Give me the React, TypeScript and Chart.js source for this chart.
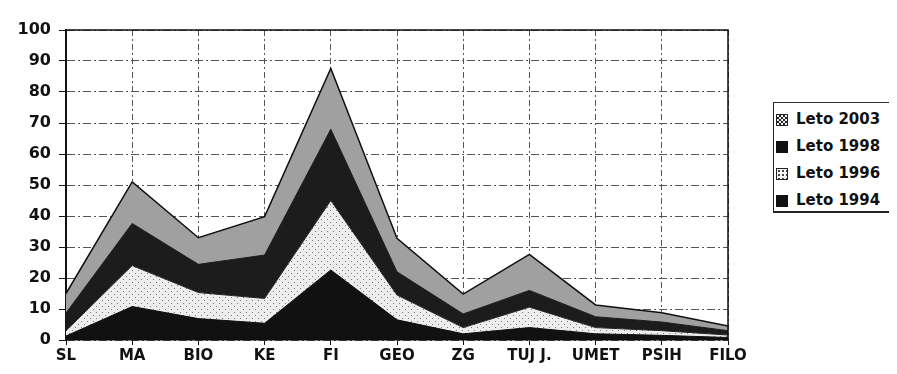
import React, { useEffect, useRef } from "react";
import { Chart, registerables } from "chart.js";

Chart.register(...registerables);

const categories = ["SL", "MA", "BIO", "KE", "FI", "GEO", "ZG", "TUJ J.", "UMET", "PSIH", "FILO"];
const leto1994 = [1.3, 10.8, 6.9, 5.4, 22.6, 6.5, 2, 4, 2, 1.5, 0.8];
const leto1996 = [1.7, 13.2, 8.4, 8, 22.4, 8, 2, 6.6, 2, 1.5, 0.8];
const leto1998 = [5.7, 13.6, 9.1, 14, 23, 7.5, 4.4, 5.4, 3.5, 2.8, 1.4];
const leto2003 = [6.3, 13.4, 8.6, 12.4, 19.6, 10.8, 6.4, 11.6, 3.8, 3, 1.5];
const seriesNames = ["Leto 1994", "Leto 1996", "Leto 1998", "Leto 2003"];
const yMin = 0;
const yMax = 100;
const yStep = 10;

const FONT = "'DejaVu Sans', sans-serif";

function makeDotPattern(): CanvasPattern | string {
  const c = document.createElement("canvas");
  c.width = 6;
  c.height = 6;
  const g = c.getContext("2d");
  if (!g) return "#e8e8e8";
  g.fillStyle = "#ededed";
  g.fillRect(0, 0, 6, 6);
  g.fillStyle = "#7a7a7a";
  g.fillRect(1, 1, 1, 1);
  g.fillRect(4, 4, 1, 1);
  const p = g.createPattern(c, "repeat");
  return p || "#e8e8e8";
}

const frameBorder = {
  id: "frameBorder",
  afterDatasetsDraw(chart: any) {
    const { ctx, chartArea } = chart;
    ctx.save();
    ctx.setLineDash([]);
    ctx.strokeStyle = "#111";
    ctx.lineWidth = 1.5;
    ctx.beginPath();
    ctx.moveTo(chartArea.left, chartArea.top);
    ctx.lineTo(chartArea.right, chartArea.top);
    ctx.lineTo(chartArea.right, chartArea.bottom);
    ctx.stroke();
    ctx.restore();
  },
};

function LegendIcon({ kind }: { kind: string }) {
  const base: React.CSSProperties = {
    display: "inline-block",
    width: 12,
    height: 12,
    marginRight: 8,
    boxSizing: "border-box",
    verticalAlign: "middle",
  };
  if (kind === "check") {
    return (
      <span
        style={{
          ...base,
          border: "1px solid #222",
          backgroundColor: "#f2f2f2",
          backgroundImage: "repeating-conic-gradient(#222 0% 25%, #f2f2f2 0% 50%)",
          backgroundSize: "4px 4px",
        }}
      />
    );
  }
  if (kind === "dots") {
    return (
      <span
        style={{
          ...base,
          border: "1.5px solid #222",
          backgroundColor: "#f5f5f5",
          backgroundImage: "radial-gradient(#444 1px, transparent 1px)",
          backgroundSize: "4px 4px",
        }}
      />
    );
  }
  return <span style={{ ...base, backgroundColor: "#111" }} />;
}

export default function App() {
  const canvasRef = useRef<HTMLCanvasElement | null>(null);

  useEffect(() => {
    const canvas = canvasRef.current;
    if (!canvas) return;
    const dots = makeDotPattern();
    const chart = new Chart(canvas, {
      type: "line",
      data: {
        labels: categories,
        datasets: [
          {
            label: seriesNames[0],
            data: leto1994,
            fill: "origin",
            backgroundColor: "#111111",
            borderColor: "#111111",
            borderWidth: 1,
            pointRadius: 0,
            tension: 0,
          },
          {
            label: seriesNames[1],
            data: leto1996,
            fill: "-1",
            backgroundColor: dots as any,
            borderColor: "#222",
            borderWidth: 1,
            pointRadius: 0,
            tension: 0,
          },
          {
            label: seriesNames[2],
            data: leto1998,
            fill: "-1",
            backgroundColor: "#1c1c1c",
            borderColor: "#1c1c1c",
            borderWidth: 1,
            pointRadius: 0,
            tension: 0,
          },
          {
            label: seriesNames[3],
            data: leto2003,
            fill: "-1",
            backgroundColor: "#a0a0a0",
            borderColor: "#111",
            borderWidth: 1.5,
            pointRadius: 0,
            tension: 0,
          },
        ],
      },
      options: {
        animation: false,
        responsive: false,
        maintainAspectRatio: false,
        layout: { padding: { left: 0, right: 161, top: 22, bottom: 0 } },
        plugins: {
          legend: { display: false },
          tooltip: { enabled: false },
        },
        scales: {
          x: {
            offset: false,
            afterFit: (s: any) => {
              s.height = 26;
            },
            grid: {
              display: true,
              color: "#555",
              lineWidth: 1,
              tickLength: 5,
              tickColor: "#111",
              drawOnChartArea: true,
            },
            border: { display: true, color: "#111", width: 1.5, dash: [6, 3, 2, 3] },
            ticks: {
              padding: 2,
              color: "#111",
              maxRotation: 0,
              autoSkip: false,
              font: { family: FONT, size: 15, weight: "bold" },
            },
          },
          y: {
            stacked: true,
            min: yMin,
            max: yMax,
            afterFit: (s: any) => {
              s.width = 58;
            },
            grid: {
              color: "#555",
              lineWidth: 1,
              tickLength: 7,
              tickColor: "#111",
            },
            border: { display: true, color: "#111", width: 2, dash: [8, 3, 2, 3] },
            ticks: {
              stepSize: yStep,
              padding: 8,
              color: "#111",
              font: { family: FONT, size: 16, weight: "bold" },
            },
          },
        },
      },
      plugins: [frameBorder],
    } as any);
    return () => chart.destroy();
  }, []);

  const legendItems = [
    { name: seriesNames[3], kind: "check" },
    { name: seriesNames[2], kind: "solid" },
    { name: seriesNames[1], kind: "dots" },
    { name: seriesNames[0], kind: "solid" },
  ];

  return (
    <div style={{ position: "relative", width: 881, height: 358 }}>
      <canvas ref={canvasRef} width={881} height={358} style={{ display: "block" }} />
      <div
        style={{
          position: "absolute",
          left: 765,
          top: 94,
          width: 120,
          height: 111,
          boxSizing: "border-box",
          border: "1px solid #333",
          borderLeft: "1.5px solid #222",
          borderBottom: "2px solid #222",
          background: "#fff",
          paddingTop: 3,
          paddingLeft: 2,
          fontFamily: FONT,
          fontWeight: "bold",
          fontSize: 15,
          color: "#111",
        }}
      >
        {legendItems.map((it) => (
          <div key={it.name} style={{ height: 27, lineHeight: "27px", whiteSpace: "nowrap" }}>
            <LegendIcon kind={it.kind} />
            <span style={{ verticalAlign: "middle" }}>{it.name}</span>
          </div>
        ))}
      </div>
    </div>
  );
}
